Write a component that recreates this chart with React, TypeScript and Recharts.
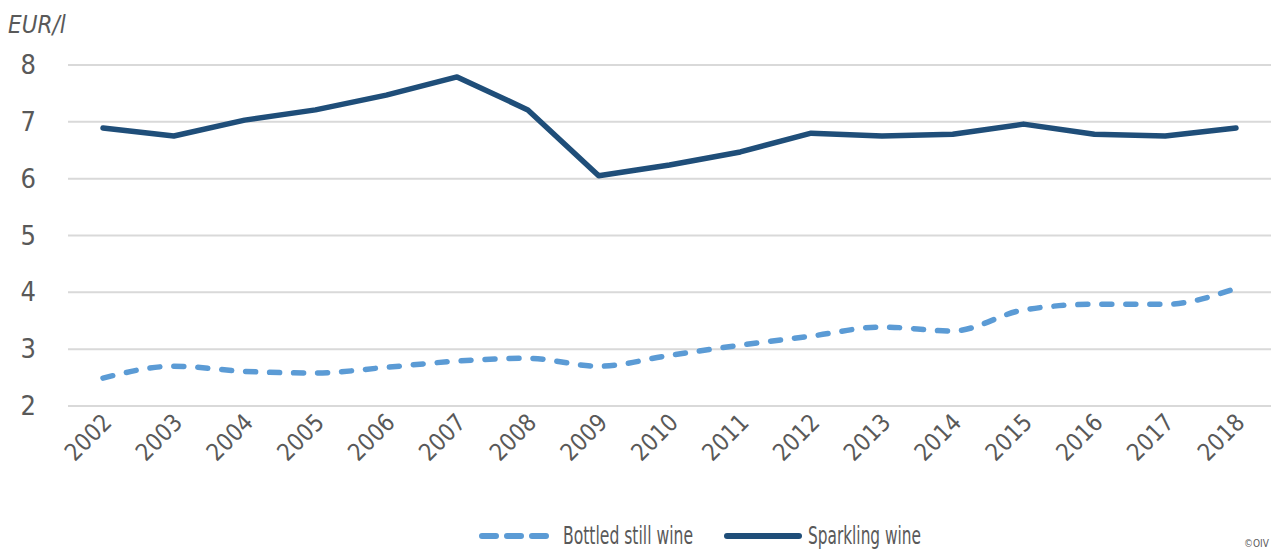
import React from 'react';
import { LineChart, Line, XAxis, YAxis, CartesianGrid, Legend } from 'recharts';

const years = ['2002', '2003', '2004', '2005', '2006', '2007', '2008', '2009', '2010', '2011', '2012', '2013', '2014', '2015', '2016', '2017', '2018'];
const bottledStill = [2.49, 2.7, 2.61, 2.58, 2.68, 2.79, 2.84, 2.7, 2.89, 3.07, 3.23, 3.39, 3.32, 3.69, 3.79, 3.79, 4.07];
const sparkling = [6.89, 6.75, 7.03, 7.21, 7.47, 7.79, 7.21, 6.05, 6.24, 6.47, 6.8, 6.75, 6.78, 6.96, 6.78, 6.75, 6.89];
const yTicks = [2, 3, 4, 5, 6, 7, 8];

const data = years.map((year, i) => ({ year, still: bottledStill[i], sparkling: sparkling[i] }));

const FONT = '"Liberation Sans Narrow", "DejaVu Sans Condensed", sans-serif';
const GREY = '#595959';
const LIGHT = '#5B9BD5';
const DARK = '#1F4E79';

const YTick = (props: any) => (
  <text x={36} y={props.y} dy={9} textAnchor="end" fontSize={27} fill={GREY} fontFamily={FONT}>
    {props.payload.value}
  </text>
);

const XTick = (props: any) => (
  <g transform={`translate(${props.x + 10},${props.y + 10})`}>
    <text
      transform="rotate(-45)"
      textAnchor="end"
      fontSize={24}
      fill={GREY}
      fontFamily={FONT}
      textLength={54}
      lengthAdjust="spacingAndGlyphs"
    >
      {props.payload.value}
    </text>
  </g>
);

const LegendContent = () => (
  <svg width={1271} height={40}>
    <line x1={482} y1={24} x2={546} y2={24} stroke={LIGHT} strokeWidth={6} strokeLinecap="round" strokeDasharray="14 11" />
    <text x={563} y={32} fontSize={24} fill={GREY} fontFamily={FONT} textLength={130} lengthAdjust="spacingAndGlyphs">
      Bottled still wine
    </text>
    <line x1={727} y1={24} x2={799} y2={24} stroke={DARK} strokeWidth={6} strokeLinecap="round" />
    <text x={808} y={32} fontSize={24} fill={GREY} fontFamily={FONT} textLength={113} lengthAdjust="spacingAndGlyphs">
      Sparkling wine
    </text>
  </svg>
);

export default function App() {
  return (
    <div style={{ position: 'absolute', left: 0, top: 0, width: 1271, height: 552, background: '#fff' }}>
      <div
        style={{
          position: 'absolute',
          left: 8,
          top: 10,
          fontFamily: FONT,
          fontStyle: 'italic',
          fontSize: 24,
          color: GREY,
          lineHeight: '30px',
        }}
      >
        EUR/l
      </div>
      <LineChart width={1271} height={552} data={data} margin={{ top: 65, right: 0, bottom: 0, left: 0 }}>
        <CartesianGrid vertical={false} stroke="#d9d9d9" strokeWidth={2} />
        <XAxis
          dataKey="year"
          height={106}
          padding={{ left: 35, right: 35 }}
          tick={<XTick />}
          tickLine={false}
          axisLine={false}
          interval={0}
        />
        <YAxis width={68} domain={[2, 8]} ticks={yTicks} tick={<YTick />} tickLine={false} axisLine={false} />
        <Legend verticalAlign="bottom" height={40} content={<LegendContent />} />
        <Line
          type="monotone"
          dataKey="still"
          stroke={LIGHT}
          strokeWidth={5.5}
          strokeDasharray="10 14"
          strokeLinecap="round"
          dot={false}
          isAnimationActive={false}
        />
        <Line
          type="linear"
          dataKey="sparkling"
          stroke={DARK}
          strokeWidth={5.5}
          strokeLinecap="round"
          strokeLinejoin="round"
          dot={false}
          isAnimationActive={false}
        />
      </LineChart>
      <div style={{ position: 'absolute', left: 1244, top: 538, fontFamily: FONT, fontSize: 10, color: GREY, whiteSpace: 'nowrap' }}>
        ©OIV
      </div>
    </div>
  );
}
